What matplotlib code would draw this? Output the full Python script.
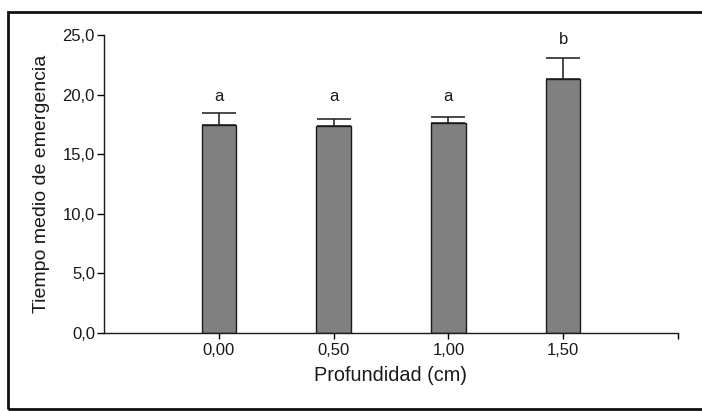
import matplotlib.pyplot as plt
from matplotlib.patches import Rectangle

plt.rcParams['font.family'] = ['Liberation Sans', 'DejaVu Sans']

# Datos
profundidad = ["0,00", "0,50", "1,00", "1,50"]
tiempo_medio = [17.45, 17.35, 17.65, 21.3]
error_sup = [1.0, 0.6, 0.5, 1.75]
letras = ["a", "a", "a", "b"]
altura_letras = [19.8, 19.8, 19.8, 24.6]
y_ticks = [0, 5, 10, 15, 20, 25]
y_labels = ["0,0", "5,0", "10,0", "15,0", "20,0", "25,0"]

fig = plt.figure(figsize=(7.02, 4.11), dpi=100)
ax = fig.add_axes([104 / 702, 1 - 333 / 411, 574 / 702, 298 / 411])

pos = list(range(len(profundidad)))
ax.bar(pos, tiempo_medio, width=0.3, color="#808080", edgecolor="#1a1a1a",
       linewidth=1.0, zorder=2)
ax.errorbar(pos, tiempo_medio, yerr=[[0] * len(pos), error_sup], fmt="none",
            ecolor="#2a2a2a", elinewidth=1.2, capsize=12.5, capthick=1.2, zorder=1)

for x, h, l in zip(pos, altura_letras, letras):
    ax.text(x, h, l, ha="center", va="center", fontsize=12, color="#1a1a1a")

ax.set_xlim(-1, 4)
ax.set_ylim(0, 25)
ax.set_xticks(pos)
ax.set_xticklabels(profundidad, fontsize=12, color="#1a1a1a")
ax.set_xticks([4], minor=True)
ax.tick_params(axis="x", which="both", direction="out", length=4, width=1, pad=3)
ax.set_yticks(y_ticks)
ax.set_yticklabels(y_labels, fontsize=12, color="#1a1a1a")
ax.tick_params(axis="y", direction="out", length=5, width=1, pad=1.5)

for s in ["top", "right"]:
    ax.spines[s].set_visible(False)
for s in ["left", "bottom"]:
    ax.spines[s].set_color("#1a1a1a")
    ax.spines[s].set_linewidth(1.0)

ax.set_xlabel("Profundidad (cm)", fontsize=14.3, color="#1a1a1a", labelpad=6)
ax.set_ylabel("Tiempo medio de emergencia", fontsize=14, color="#1a1a1a",
              labelpad=9)

# Marco exterior
fig.patches.append(Rectangle((8 / 702, 1 - 409 / 411), 1.0, (409 - 12) / 411,
                             transform=fig.transFigure, fill=False,
                             edgecolor="#111111", linewidth=2))

fig.savefig("out.png", dpi=100)
